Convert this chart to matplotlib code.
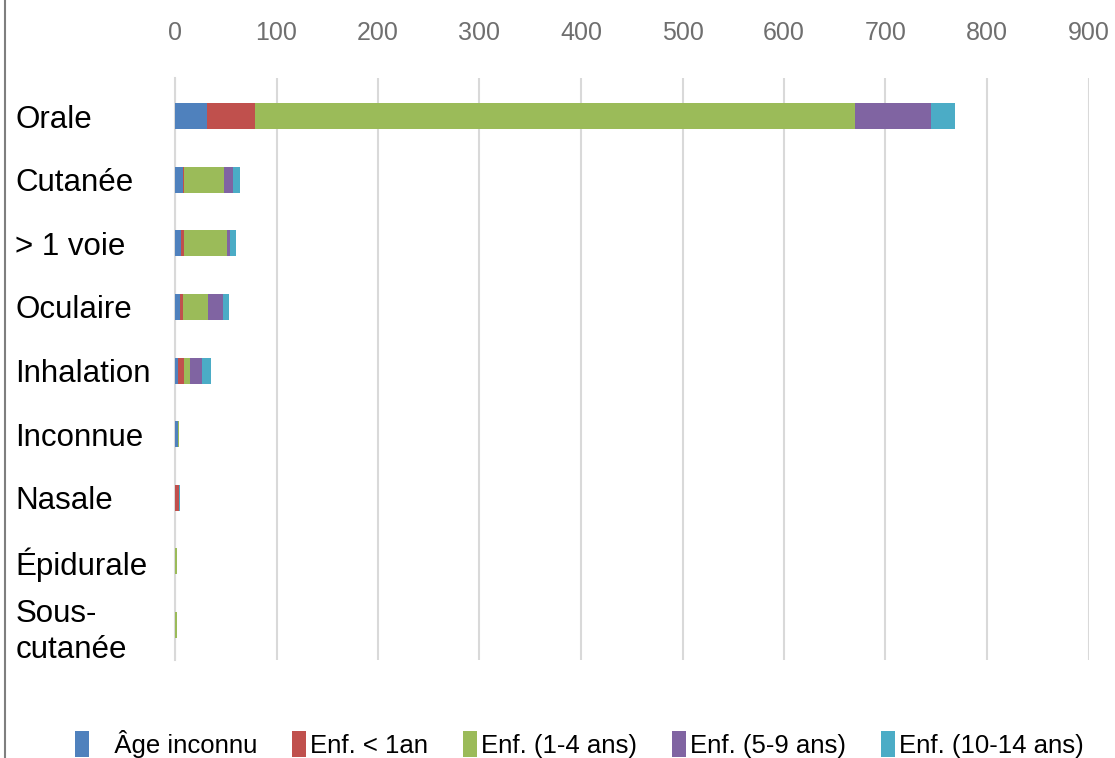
import matplotlib
matplotlib.use('Agg')
import matplotlib.pyplot as plt
from matplotlib.lines import Line2D
from matplotlib.patches import Patch
import numpy as np

# voies d'exposition
voies = ['Orale', 'Cutanée', '> 1 voie', 'Oculaire', 'Inhalation',
         'Inconnue', 'Nasale', 'Épidurale', 'Sous-\ncutanée']

age_inconnu = [32, 7.5, 6, 4.5, 3, 2.5, 0, 0, 0]
enf_1an = [47, 1.5, 3, 3, 6, 0, 3.5, 0, 0]
enf_1_4 = [591, 39, 42, 25, 5.5, 1, 0, 1.5, 1.5]
enf_5_9 = [75, 9, 3, 15, 12, 0, 0, 0, 0]
enf_10_14 = [23, 7.5, 6, 6, 9, 0, 1.5, 0, 0]

series = [age_inconnu, enf_1an, enf_1_4, enf_5_9, enf_10_14]
noms = ['   Âge inconnu', 'Enf. < 1an', 'Enf. (1-4 ans)', 'Enf. (5-9 ans)', 'Enf. (10-14 ans)']
couleurs = ['#4F81BD', '#C0504D', '#9BBB59', '#8064A2', '#4BACC6']
xticks = list(range(0, 1000, 100))

fig = plt.figure(figsize=(11.15, 7.58), dpi=100)
ax = fig.add_axes([175/1115, 1 - 660/758, (1088.5 - 175)/1115, (660 - 78)/758])

y = np.arange(len(voies))
left = np.zeros(len(voies))
for vals, c in zip(series, couleurs):
    ax.barh(y, vals, left=left, height=0.41, color=c, edgecolor='none', zorder=3)
    left = left + np.array(vals)

ax.set_xlim(0, 900)
ax.set_ylim(8.55, -0.6)
ax.set_xticks(xticks)
ax.xaxis.tick_top()
ax.set_xticklabels([str(v) for v in xticks], family='Liberation Sans', fontsize=18, color='#6f6f6f')
ax.tick_params(axis='x', length=0, pad=24)
ax.grid(axis='x', color='#d9d9d9', linewidth=1.5, zorder=0)
for s in ['top', 'right', 'bottom']:
    ax.spines[s].set_visible(False)
ax.spines['left'].set_color('#d9d9d9')
ax.spines['left'].set_linewidth(1.5)

ax.set_yticks(y)
ax.set_yticklabels(voies, family='Liberation Sans', fontsize=22.5, color='black', linespacing=1.3)
ax.tick_params(axis='y', length=0, pad=115)
for lab in ax.get_yticklabels():
    lab.set_ha('left')

fig.add_artist(Line2D([5/1115, 5/1115], [0, 1], color='#7f7f7f', linewidth=1.5))

handles = [Patch(facecolor=c, edgecolor='none') for c in couleurs]
leg = fig.legend(handles, noms, loc='lower center', bbox_to_anchor=(579/1115, -0.03), ncol=5,
                 frameon=False, prop={'family': 'Liberation Sans', 'size': 18.5},
                 handlelength=0.55, handleheight=1.2, handletextpad=0.15, columnspacing=1.36)

fig.savefig('out.png', dpi=100)
